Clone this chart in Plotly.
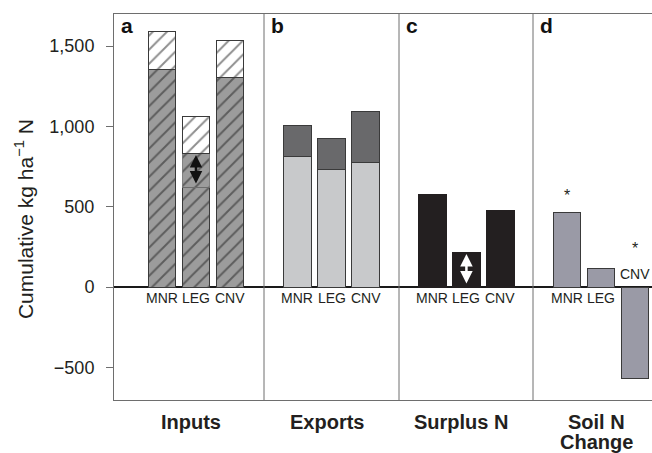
import plotly.graph_objects as go

# ---------------- data ----------------
cats = ["MNR", "LEG", "CNV"]
inputs_base = [1357, 623, 1307]      # hatched grey
inputs_mid = [0, 211, 0]             # hatched grey (LEG fixation part)
inputs_top = [231, 231, 231]         # hatched white
exports_low = [810, 735, 778]        # light grey
exports_high = [199, 193, 312]       # dark grey
surplus = [579, 218, 479]
soil_change = [467, 118, -567]
soil_sig = ["*", "", "*"]
panel_titles = ["Inputs", "Exports", "Surplus N", "Soil N<br>Change"]
panel_letters = ["a", "b", "c", "d"]
yticks = [-500, 0, 500, 1000, 1500]

FONT = "Liberation Sans, Arial, sans-serif"
TXT = "#231f20"
LINE = "#6e6e6e"
OUT = "#3a3a3a"

fig = go.Figure()

xa = ["x", "x2", "x3", "x4"]

def pat(bg):
    return dict(shape="/", bgcolor=bg, fgcolor="#1e1e1e", size=10, solidity=0.2)

# panel a: inputs
fig.add_trace(go.Bar(x=cats, y=inputs_base, xaxis="x", yaxis="y",
                     marker=dict(color="#9c9c9c", pattern=pat("#9c9c9c"),
                                 line=dict(color=OUT, width=1))))
fig.add_trace(go.Bar(x=cats, y=inputs_mid, xaxis="x", yaxis="y",
                     marker=dict(color="#9c9c9c", pattern=pat("#9c9c9c"),
                                 line=dict(color="#7a7a7a", width=0.8))))
fig.add_trace(go.Bar(x=cats, y=inputs_top, xaxis="x", yaxis="y",
                     marker=dict(color="#ffffff", pattern=pat("#ffffff"),
                                 line=dict(color=OUT, width=1))))
# panel b: exports
fig.add_trace(go.Bar(x=cats, y=exports_low, xaxis="x2", yaxis="y",
                     marker=dict(color="#c8c9cb", line=dict(color=OUT, width=1))))
fig.add_trace(go.Bar(x=cats, y=exports_high, xaxis="x2", yaxis="y",
                     marker=dict(color="#69696b", line=dict(color=OUT, width=1))))
# panel c: surplus
fig.add_trace(go.Bar(x=cats, y=surplus, xaxis="x3", yaxis="y",
                     marker=dict(color="#231f20", line=dict(color="#231f20", width=1))))
# panel d: soil N change
fig.add_trace(go.Bar(x=cats, y=soil_change, xaxis="x4", yaxis="y",
                     marker=dict(color="#9a9aa6", line=dict(color=OUT, width=1))))

annotations = []
shapes = []

# category labels near zero
for i in range(4):
    for j, c in enumerate(cats):
        above = (i == 3 and soil_change[j] < 0)
        annotations.append(dict(
            x=j, y=0, xref=xa[i], yref="y", text=c, showarrow=False,
            yanchor="bottom" if above else "top",
            yshift=3 if above else -1,
            font=dict(family=FONT, size=14, color=TXT)))

# significance stars (panel d)
for j, s in enumerate(soil_sig):
    if not s:
        continue
    v = soil_change[j]
    shift = 6 if v > 0 else 28
    annotations.append(dict(
        x=j, y=max(v, 0), xref="x4", yref="y", text=s, showarrow=False,
        yanchor="bottom", yshift=shift,
        font=dict(family=FONT, size=16, color=TXT)))

# double arrows in LEG bars
leg = cats.index("LEG")
annotations.append(dict(
    x=leg, y=inputs_base[leg] + inputs_mid[leg], ax=leg, ay=inputs_base[leg],
    xref="x", yref="y", axref="x", ayref="y", text="", showarrow=True,
    arrowside="end+start", arrowhead=2, startarrowhead=2, arrowsize=1,
    startarrowsize=1, arrowwidth=2.5, arrowcolor="#111111",
    standoff=2, startstandoff=2))
annotations.append(dict(
    x=leg, y=surplus[leg], ax=leg, ay=0,
    xref="x3", yref="y", axref="x3", ayref="y", text="", showarrow=True,
    arrowside="end+start", arrowhead=2, startarrowhead=2, arrowsize=1,
    startarrowsize=1, arrowwidth=2.5, arrowcolor="#ffffff",
    standoff=2, startstandoff=2))

# panel letters and titles
for i in range(4):
    annotations.append(dict(
        x=0, y=1, xref=xa[i] + " domain", yref="paper", text="<b>%s</b>" % panel_letters[i],
        showarrow=False, xanchor="left", yanchor="top", xshift=5, yshift=2,
        font=dict(family=FONT, size=21, color="#111111")))
    for k, line in enumerate(panel_titles[i].split("<br>")):
        annotations.append(dict(
            x=1, y=0, xref=xa[i], yref="paper", text="<b>%s</b>" % line,
            showarrow=False, xanchor="center", yanchor="top", borderpad=0,
            xshift=-5, yshift=-10 - 20 * k,
            font=dict(family=FONT, size=20, color=TXT)))
    if i > 0:
        shapes.append(dict(type="line", xref=xa[i] + " domain", yref="paper",
                           x0=0, x1=0, y0=0, y1=1, line=dict(color=LINE, width=1)))

# y-axis title
annotations.append(dict(
    x=-0.167, y=0.469, xref="paper", yref="paper", xanchor="center", yanchor="middle",
    text="Cumulative kg ha<sup>\u22121</sup> N", textangle=-90, showarrow=False,
    font=dict(family=FONT, size=21, color=TXT)))

W = 538.0
bounds = [0, 150 / W, 285 / W, 419 / W, 1.0]
ranges = [[-1.41, 3.0], [-0.985, 2.985], [-0.985, 2.96], [-1.0, 2.5]]

layout_axes = {}
for i in range(4):
    name = "xaxis" if i == 0 else "xaxis%d" % (i + 1)
    layout_axes[name] = dict(
        domain=[bounds[i], bounds[i + 1]], anchor="y", type="category",
        categoryorder="array", categoryarray=cats, range=ranges[i],
        showticklabels=False, ticks="", showgrid=False, zeroline=False,
        showline=True, mirror=True, linecolor=LINE, linewidth=1, fixedrange=True)

fig.update_layout(
    width=652, height=453,
    margin=dict(l=114, r=0, t=14, b=53),
    paper_bgcolor="white", plot_bgcolor="white",
    barmode="stack", bargap=0.18, showlegend=False,
    yaxis=dict(range=[-703, 1700], tickvals=yticks, tickformat=",",
               ticks="outside", ticklen=7, tickcolor=LINE, showline=True,
               linecolor=LINE, linewidth=1, showgrid=False,
               zeroline=True, zerolinecolor="#1a1a1a", zerolinewidth=2,
               tickfont=dict(family=FONT, size=18, color=TXT), anchor="x",
               ticklabelstandoff=8, fixedrange=True),
    annotations=annotations, shapes=shapes,
    **layout_axes)

fig.write_html("out.html", config={"displayModeBar": False},
               post_script="document.body.style.margin='0px';document.body.style.padding='0px';")
